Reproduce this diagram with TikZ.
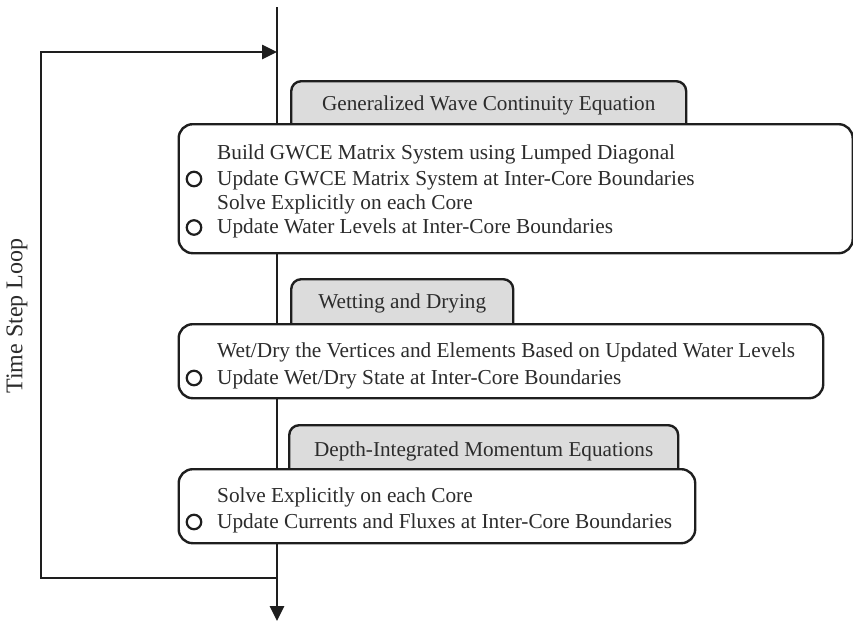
\documentclass[tikz,border=0pt]{standalone}
\usepackage{fontspec}
\setmainfont{Liberation Serif}
\usetikzlibrary{arrows.meta}
\definecolor{ink}{HTML}{1E1E1E}
\definecolor{txt}{HTML}{2C2C2C}
\definecolor{tabfill}{HTML}{DCDCDC}
\begin{document}
\begin{tikzpicture}[x=1pt,y=-1pt,
  flow/.style={draw=ink,line width=2.6pt},
  headtip/.style={-{Triangle[length=15pt,width=14pt]}},
  tab/.style={draw=ink,fill=tabfill,line width=2.4pt,rounded corners=10pt,
    anchor=north west,inner xsep=0pt,inner ysep=0pt,text height=29pt,text depth=31pt,
    font=\fontsize{21.2}{25}\selectfont,text=txt},
  stage/.style={draw=ink,fill=white,line width=2.4pt,rounded corners=14pt,
    anchor=north west,inner sep=0pt},
  item/.style={anchor=base west,inner sep=0pt,font=\fontsize{21.3}{25}\selectfont,text=txt},
  bullet/.style={circle,draw=ink,line width=2.2pt,minimum size=14.5pt,inner sep=0pt}
]
\useasboundingbox (0,0) rectangle (853,622);

% main flow line and time-step loop
\coordinate (vTop) at (277,7);
\coordinate (vEnd) at (277,621);
\coordinate (loopIn) at (277,52);
\coordinate (loopOut) at (277,578);
\coordinate (loopSide) at (41,315);
\draw[flow,headtip] (vTop) -- (vEnd);
\draw[flow,headtip] (loopOut) -| (loopSide) |- (loopIn);
\node[rotate=90,font=\fontsize{24}{28}\selectfont,text=txt] (tsl) at (17,316) {Time Step Loop};

% stage 1: GWCE
\node[tab,minimum width=395pt] (t1) at (290,80) {Generalized Wave Continuity Equation};
\node[stage,minimum width=674pt,minimum height=129pt] (b1) at (177.5,123) {};
\node[item] (l11) at (217,159) {Build GWCE Matrix System using Lumped Diagonal};
\node[item] (l12) at (217,185) {Update GWCE Matrix System at Inter-Core Boundaries};
\node[item] (l13) at (217,209) {Solve Explicitly on each Core};
\node[item] (l14) at (217,233) {Update Water Levels at Inter-Core Boundaries};
\node[bullet] (c12) at (194,179) {};
\node[bullet] (c14) at (194,227.5) {};

% stage 2: wetting and drying
\node[tab,minimum width=222pt] (t2) at (290,278) {Wetting and Drying};
\node[stage,minimum width=644.5pt,minimum height=74pt] (b2) at (177.5,323) {};
\node[item] (l21) at (217,357) {Wet/Dry the Vertices and Elements Based on Updated Water Levels};
\node[item] (l22) at (217,384) {Update Wet/Dry State at Inter-Core Boundaries};
\node[bullet] (c22) at (194,378) {};

% stage 3: momentum
\node[tab,minimum width=389pt,text height=31pt] (t3) at (288,424) {Depth-Integrated Momentum Equations};
\node[stage,minimum width=516.5pt,minimum height=74pt] (b3) at (177.5,468) {};
\node[item] (l31) at (217,502) {Solve Explicitly on each Core};
\node[item] (l32) at (217,528) {Update Currents and Fluxes at Inter-Core Boundaries};
\node[bullet] (c32) at (194,522) {};
\end{tikzpicture}
\end{document}
